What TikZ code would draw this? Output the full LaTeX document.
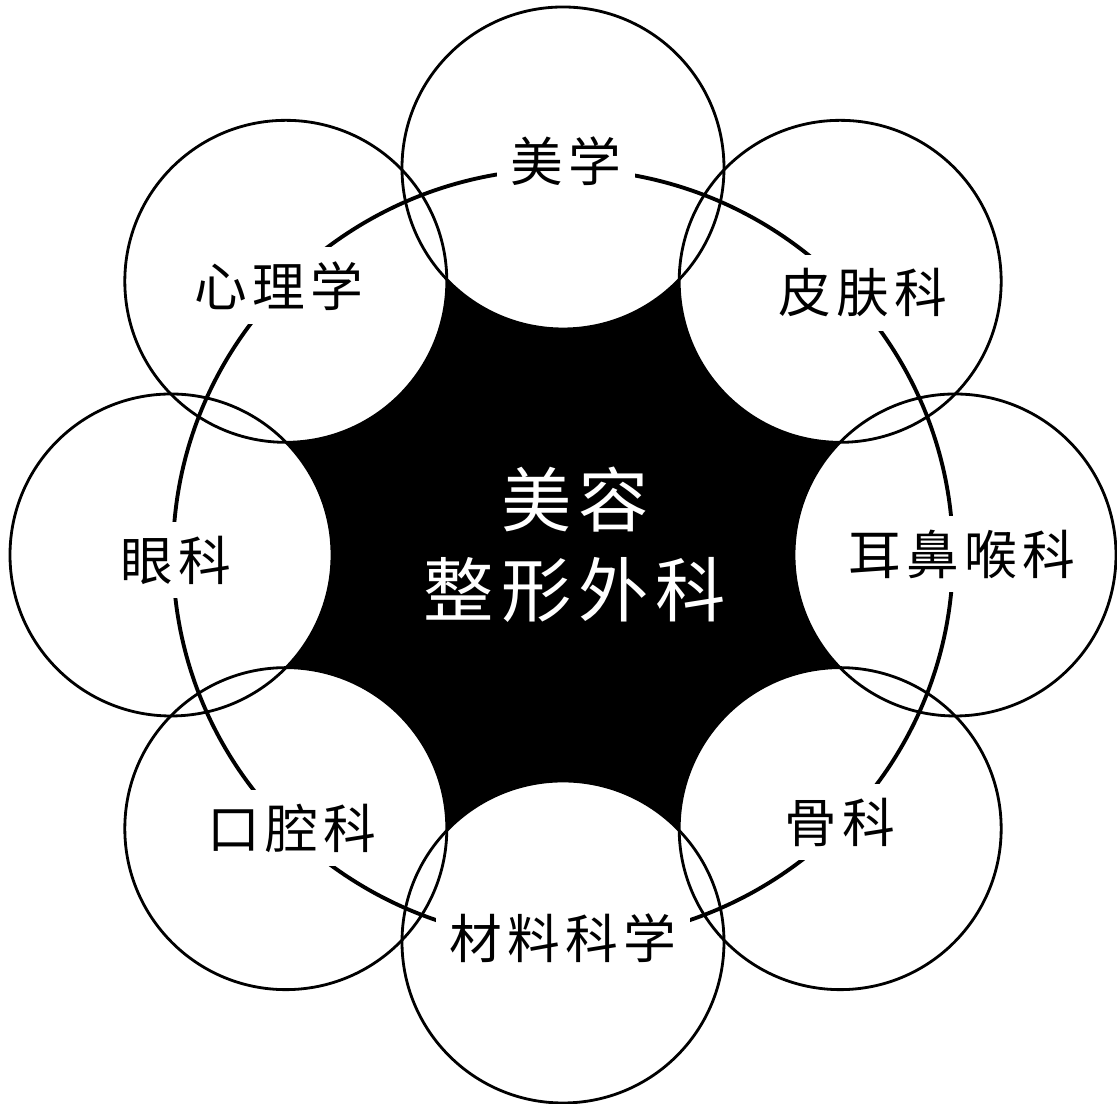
\documentclass[tikz,border=0pt]{standalone}
\usepackage{fontspec}
\newfontfamily\cjk[LetterSpace=10]{Noto Sans CJK SC}

\begin{document}
\begin{tikzpicture}[
    disc/.style={circle, minimum size=3.22cm, inner sep=0pt, outer sep=0pt},
    field/.style={font=\cjk\fontsize{15}{18}\selectfont, fill=white, inner sep=4pt},
    core/.style={font=\cjk\fontsize{20}{25.6}\selectfont, text=white, align=center}]
  \useasboundingbox (-5.63,-5.49) rectangle (5.54,5.55);
  % centres of the eight circles
  \foreach \i/\a in {1/90,2/45,3/0,4/-45,5/-90,6/-135,7/180,8/135}
    \coordinate (p\i) at (\a:3.92 and 3.87);
  % black middle
  \fill (p1) -- (p2) -- (p3) -- (p4) -- (p5) -- (p6) -- (p7) -- (p8) -- cycle;
  \foreach \i in {1,...,8}
    \fill[white] (p\i) circle (1.61);
  \foreach \i in {1,...,8}
    \node[disc, draw, line width=0.8pt] (c\i) at (p\i) {};
  % ring through the fields
  \draw[line width=1.1pt] (0,0) ellipse (3.9 and 3.86);
  \node[field] (aesth) at (0.03,3.94) {美学};
  \node[field] (derm) at (3.00,2.62) {皮肤科};
  \node[field] (ent) at (3.99,0.01) {耳鼻喉科};
  \node[field] (ortho) at (2.77,-2.67) {骨科};
  \node[field] (mater) at (0.00,-3.83) {材料科学};
  \node[field] (dental) at (-2.71,-2.73) {口腔科};
  \node[field] (ophth) at (-3.87,-0.05) {眼科};
  \node[field] (psych) at (-2.84,2.69) {心理学};
  \node[core] (plastic) at (0.12,0.10) {美容\\整形外科};
\end{tikzpicture}
\end{document}
